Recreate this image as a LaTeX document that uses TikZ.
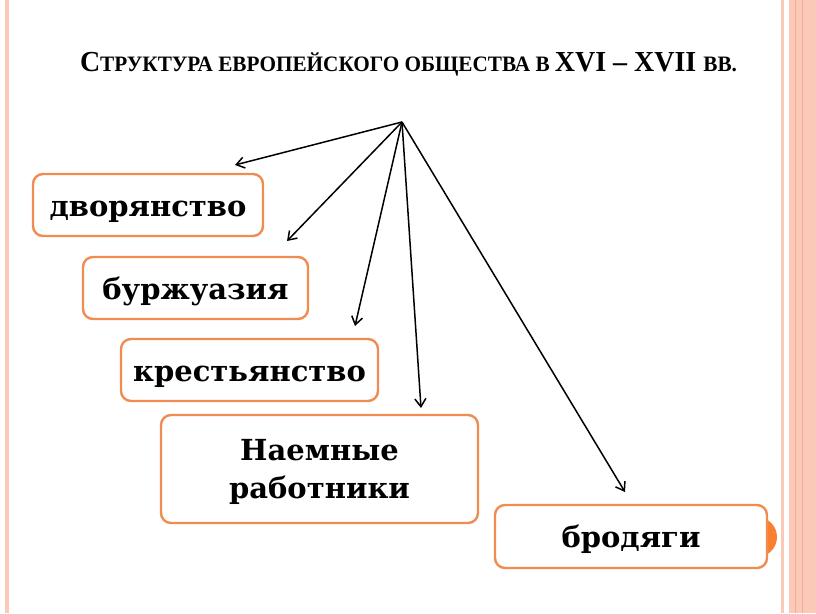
\documentclass[tikz,border=0pt]{standalone}
\usepackage{fontspec}
\setmainfont{DejaVu Serif}
\newfontfamily\titlefont{Liberation Serif}
\usetikzlibrary{arrows.meta}
\definecolor{boxorange}{RGB}{240,140,80}
\definecolor{dotorange}{RGB}{250,128,48}
\definecolor{stripepink}{RGB}{251,201,184}
\definecolor{stripedark}{RGB}{242,172,148}

\begin{document}
\begin{tikzpicture}[x=1pt,y=-1pt,->,>={Straight Barb[length=8pt,width=11pt]},
                    line width=1.5pt,
                    group/.style={draw=boxorange,line width=2.4pt,rounded corners=10pt,
                      fill=white,inner sep=0pt,align=center,text depth=0pt,
                      font=\bfseries\fontsize{29}{38}\selectfont}]

  \useasboundingbox[fill=white] (0,0) rectangle (816,613);

  % page stripes
  \fill[stripepink] (5,0) rectangle (9,613);
  \fill[stripepink] (781,0) rectangle (784,613);
  \fill[stripepink] (789,0) rectangle (816,613);
  \fill[stripedark] (794.5,0) rectangle (795.5,613);
  \fill[stripedark] (801.5,0) rectangle (802.5,613);

  \node[anchor=base] (title) at (408.5,71) {\resizebox{657pt}{\height}{\titlefont\bfseries
    \fontsize{29}{29}\selectfont С\fontsize{22}{22}\selectfont ТРУКТУРА ЕВРОПЕЙСКОГО ОБЩЕСТВА В
    \fontsize{29}{29}\selectfont XVI – XVII \fontsize{22}{22}\selectfont ВВ.}};

  \fill[dotorange] (757,537) circle[radius=20pt];

  \node[group,text height=22pt,minimum width=230pt,minimum height=62pt]  (dvor) at (148,205)   {дворянство};
  \node[group,text height=22pt,minimum width=225pt,minimum height=62pt]  (burzh) at (195.5,288) {буржуазия};
  \node[group,text height=22pt,minimum width=257pt,minimum height=62pt]  (krest) at (249.5,370) {крестьянство};
  \node[group,minimum width=317pt,minimum height=108pt] (naem) at (319.5,469) {Наемные\\работники};
  \node[group,text height=22pt,minimum width=272pt,minimum height=63pt]  (brod) at (631,536.5) {бродяги};

  \coordinate (top) at (402,122);
  \coordinate (dvor end)  at (235,165);
  \coordinate (burzh end) at (287,241);
  \coordinate (krest end) at (355,326);
  \coordinate (naem end)  at (421,408);
  \coordinate (brod end)  at (625,492);

  \path (top) edge (dvor end)
        (top) edge (burzh end)
        (top) edge (krest end)
        (top) edge (naem end)
        (top) edge (brod end);
\end{tikzpicture}
\end{document}
